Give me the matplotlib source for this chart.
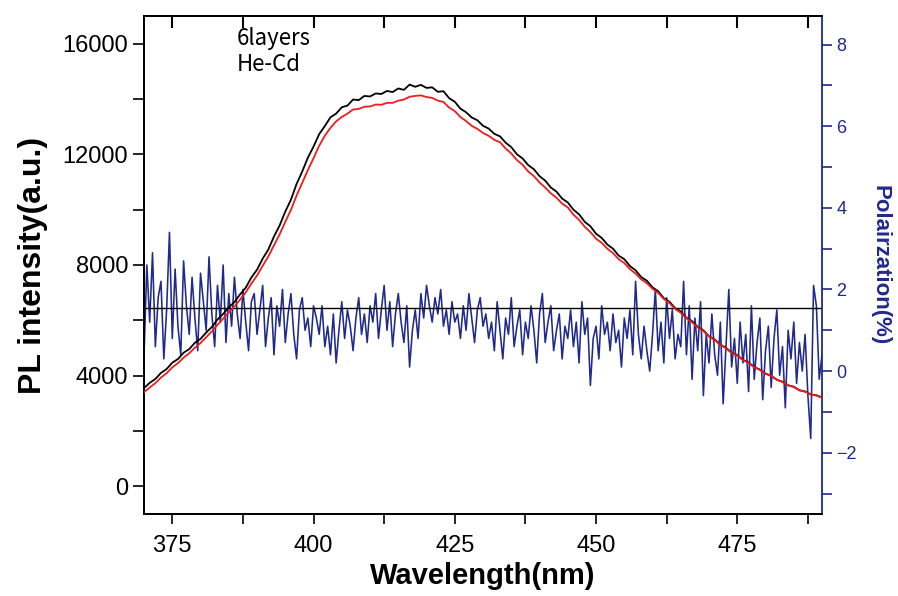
import numpy as np
import matplotlib
matplotlib.use('Agg')
import matplotlib.pyplot as plt
from matplotlib.ticker import MultipleLocator

# PL spectra, read every 1 nm from 370 to 490 nm
wl = np.arange(370, 491, 1)
pl_black = [3550, 3740, 3880, 4100, 4240, 4470, 4600, 4830, 4960, 5190,
            5330, 5560, 5760, 6030, 6230, 6470, 6660, 6940, 7180, 7550,
            7830, 8230, 8560, 9030, 9430, 9930, 10360, 10930, 11380, 11880,
            12280, 12730, 13020, 13340, 13470, 13700, 13760, 13980, 13960, 14110,
            14090, 14200, 14180, 14290, 14250, 14380, 14330, 14520, 14440, 14510,
            14400, 14420, 14260, 14280, 14030, 13900, 13650, 13520, 13330, 13230,
            13030, 12930, 12740, 12650, 12420, 12260, 12000, 11850, 11610, 11460,
            11210, 11050, 10800, 10650, 10400, 10260, 10000, 9830, 9560, 9400,
            9130, 8980, 8740, 8590, 8340, 8210, 7960, 7810, 7560, 7430,
            7190, 7050, 6800, 6670, 6440, 6320, 6090, 5970, 5760, 5640,
            5420, 5310, 5120, 5010, 4830, 4740, 4570, 4480, 4310, 4220,
            4070, 4000, 3850, 3780, 3650, 3600, 3470, 3430, 3320, 3290, 3210]
pl_red = [3400, 3570, 3730, 3930, 4090, 4300, 4450, 4650, 4810, 5010,
          5180, 5390, 5600, 5840, 6060, 6290, 6500, 6750, 7010, 7330,
          7620, 7970, 8310, 8710, 9110, 9560, 9990, 10510, 10970, 11430,
          11860, 12310, 12670, 12960, 13190, 13350, 13470, 13620, 13640, 13720,
          13730, 13800, 13790, 13860, 13860, 13940, 13980, 14080, 14110, 14130,
          14070, 14040, 13940, 13890, 13690, 13560, 13350, 13200, 13030, 12920,
          12770, 12670, 12520, 12440, 12210, 12030, 11790, 11620, 11380, 11210,
          10980, 10800, 10590, 10430, 10220, 10080, 9820, 9630, 9380, 9190,
          8950, 8800, 8590, 8430, 8210, 8070, 7850, 7690, 7480, 7340,
          7140, 6990, 6770, 6620, 6410, 6270, 6070, 5930, 5740, 5610,
          5410, 5290, 5110, 4990, 4820, 4720, 4560, 4460, 4300, 4210,
          4070, 3990, 3850, 3770, 3650, 3590, 3470, 3420, 3320, 3280, 3200]

# polarization, read every 0.5 nm from 370 to 490 nm
wl_pol = np.arange(370, 490.01, 0.5)
pol = [0.4, 2.6, 1.2, 2.9, 0.6, 1.8, 2.2, 0.3, 1.5, 3.4, 0.8, 2.5, 1.1, 0.4, 2.7, 1.6,
       0.9, 2.3, 1.3, 0.5, 2.4, 1.7, 1.0, 2.8, 1.4, 0.6, 2.1, 1.2, 2.6, 0.7, 1.9,
       1.1, 2.3, 1.4, 0.8, 2.0, 1.2, 0.5, 1.7, 1.9, 0.9, 1.5, 2.1, 0.6, 1.3, 1.8,
       0.4, 1.6, 1.1, 2.0, 0.7, 1.4, 1.9, 0.9, 0.3, 1.5, 1.8, 1.0, 1.3, 0.6, 1.6,
       1.3, 0.9, 1.6, 0.6, 1.1, 0.4, 1.4, 0.2, 1.0, 1.7, 0.8, 1.5, 1.1, 0.5, 1.3,
       1.8, 0.9, 1.4, 0.7, 1.6, 1.2, 1.9, 0.8, 1.5, 2.1, 1.0, 1.7, 0.6, 1.4, 1.9,
       1.2, 0.7, 1.6, 0.1, 1.0, 1.5, 0.8, 1.9, 1.3, 2.1, 1.6, 1.2, 1.8, 1.4, 2.0,
       1.1, 1.5, 0.9, 1.7, 1.2, 1.4, 0.8, 1.6, 1.0, 1.9, 1.3, 0.7, 1.5, 1.8, 1.1,
       1.4, 0.8, 1.2, 0.5, 1.7, 1.0, 0.3, 1.3, 0.9, 1.8, 0.6, 1.1, 1.5, 0.4, 1.2,
       0.8, 1.6, 1.0, 0.2, 1.4, 1.9, 0.7, 1.2, 1.6, 0.5, 1.0, 1.4, 0.3, 1.1, 0.8,
       1.5, 0.6, 1.2, 0.2, 1.7, 0.9, 1.3, -0.35, 0.8, 1.1, 0.3, 1.6, 0.9, 1.2, 0.5,
       1.4, 0.7, 1.0, 0.1, 1.3, 0.8, 1.5, 0.4, 2.2, 0.9, 0.3, 1.1, 0.5, 0.0, 0.9,
       2.0, 0.5, 1.2, 0.2, 1.8, 0.8, 1.5, 0.3, 0.9, 0.6, 2.2, 0.4, 1.6, -0.2, 1.3,
       0.5, 1.7, -0.6, 0.9, 0.2, 1.4, 0.4, -0.1, 1.2, -0.8, 0.6, 2.0, 0.1, 0.8, -0.3,
       1.2, 0.2, 0.9, -0.5, 1.6, -0.2, 0.7, 1.3, -0.7, 0.5, 1.1, -0.4, 0.8, 1.5, -0.1,
       0.6, -0.9, 1.0, 0.3, 1.2, -0.3, 0.7, 0.0, 0.9, -0.6, -1.65, 2.1, 1.6, -0.2, 0.4]
pol_mean = 1.55
top_ticks = np.arange(375, 490, 12.5)

navy = '#1f2a8c'
plt.rcParams['font.family'] = ['Liberation Sans', 'DejaVu Sans']

fig = plt.figure(figsize=(8.98, 5.96), dpi=100)
pos = [0.1604, 0.1376, 0.755, 0.8356]
ax = fig.add_axes(pos)
ax2 = ax.twinx()

ax.plot(wl, pl_black, color='black', lw=1.3, zorder=3)
ax.plot(wl, pl_red, color='#ee1c1c', lw=1.3, zorder=3)
ax2.plot(wl_pol, pol, color=navy, lw=1.15)
ax2.axhline(pol_mean, color='black', lw=1.0)

ax.set_zorder(ax2.get_zorder() + 1)
ax.patch.set_visible(False)

ax.set_xlim(370, 490)
ax.set_ylim(-1000, 17000)
ax2.set_ylim(-3.5, 8.7)

ax.xaxis.set_major_locator(MultipleLocator(25))
ax.xaxis.set_minor_locator(MultipleLocator(12.5))
ax.yaxis.set_major_locator(MultipleLocator(4000))
ax.yaxis.set_minor_locator(MultipleLocator(2000))
ax2.yaxis.set_major_locator(MultipleLocator(2))
ax2.yaxis.set_minor_locator(MultipleLocator(1))

ax.tick_params(axis='x', which='both', direction='out', length=7, width=1.2,
               top=False, labelsize=17, pad=8)
ax.tick_params(axis='y', which='both', direction='out', length=8, width=1.2,
               labelsize=17)
ax2.tick_params(axis='y', which='both', direction='out', length=7, width=1.2,
                colors=navy, labelsize=13)

# inward tick marks along the top edge (x in data, y in axes fraction)
for t in top_ticks:
    ax.plot([t, t], [0.978, 1.0], transform=ax.get_xaxis_transform(),
            color='black', lw=1.5, clip_on=False, zorder=6)

ax2.spines['right'].set_color(navy)
for s in ax.spines.values():
    s.set_linewidth(1.3)
for s in ax2.spines.values():
    s.set_linewidth(1.3)
ax.spines['right'].set_visible(False)

ax.set_xlabel('Wavelength(nm)', fontsize=21, fontweight='bold', labelpad=4)
ax.set_ylabel('PL intensity(a.u.)', fontsize=23, fontweight='bold', labelpad=10)
ax2.set_ylabel('Polairzation(%)', fontsize=16, fontweight='bold', color=navy,
               rotation=270, labelpad=24)

ax.text(0.137, 0.978, '6layers\nHe-Cd', transform=ax.transAxes, ha='left', va='top',
        fontsize=16, family=['Noto Sans CJK JP', 'DejaVu Sans'], linespacing=1.15)

fig.savefig('out.png', dpi=100)
